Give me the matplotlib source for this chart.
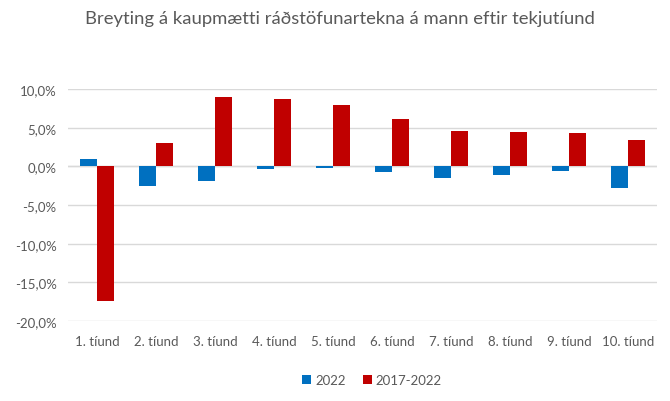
import matplotlib
matplotlib.use("Agg")
import matplotlib.pyplot as plt
import numpy as np

categories = ["1. tíund", "2. tíund", "3. tíund", "4. tíund", "5. tíund",
              "6. tíund", "7. tíund", "8. tíund", "9. tíund", "10. tíund"]
series_2022 = [0.9, -2.5, -1.9, -0.4, -0.2, -0.7, -1.5, -1.1, -0.6, -2.8]
series_2017_2022 = [-17.4, 3.0, 9.0, 8.7, 7.9, 6.1, 4.6, 4.5, 4.3, 3.4]
series_names = ["2022", "2017-2022"]
yticks = [10, 5, 0, -5, -10, -15, -20]
title = "Breyting á kaupmætti ráðstöfunartekna á mann eftir tekjutíund"

plt.rcParams['font.family'] = ['Lato', 'DejaVu Sans']
text_color = "#595959"
grid_color = "#D9D9D9"

fig = plt.figure(figsize=(6.7, 4.02), dpi=100)
ax = fig.add_axes([0.101, 0.199, 0.880, 0.577])

x = np.arange(len(categories))
w = 0.29
ax.bar(x - w / 2, series_2022, width=w, color="#0070C0", label=series_names[0], zorder=3)
ax.bar(x + w / 2, series_2017_2022, width=w, color="#C00000", label=series_names[1], zorder=3)

ax.set_xlim(-0.5, len(categories) - 0.5)
ax.set_ylim(-20, 10)
ax.set_yticks(yticks)
ax.set_yticklabels([f"{v:.1f}%".replace(".", ",") for v in yticks])
ax.set_xticks(x)
ax.set_xticklabels(categories)
ax.grid(axis="y", color=grid_color, linewidth=1, zorder=0)
ax.axhline(0, color=grid_color, linewidth=1, zorder=2)
for s in ax.spines.values():
    s.set_visible(False)
ax.tick_params(axis="both", length=0, colors=text_color, labelsize=9.5)
ax.tick_params(axis="x", pad=10)
ax.tick_params(axis="y", pad=8)

fig.text(0.508, 0.953, title, ha="center", va="center", fontsize=13.3,
         color=text_color)

leg = fig.legend(loc="center", bbox_to_anchor=(0.555, 0.052), ncol=2, frameon=False,
                 fontsize=9.5, handlelength=0.7, handleheight=0.7, columnspacing=1.3,
                 handletextpad=0.3)
for t in leg.get_texts():
    t.set_color(text_color)

fig.savefig("out.png", dpi=100)
